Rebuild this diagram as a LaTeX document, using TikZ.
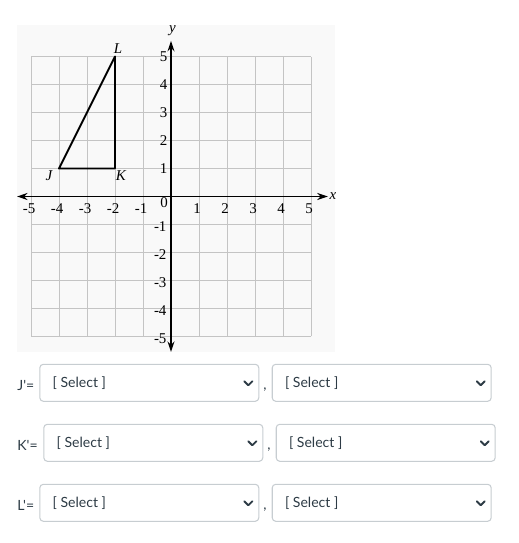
\documentclass[tikz,border=0pt]{standalone}
\usepackage{fontspec}
\setmainfont{Liberation Serif}
\newfontfamily\uifont{Lato}
\usetikzlibrary{arrows.meta}
\definecolor{gridgray}{HTML}{C4C4C4}
\definecolor{boxgray}{HTML}{C7CDD1}
\definecolor{uitext}{HTML}{2D3B45}
\tikzset{
  gridline/.style={draw=gridgray, line width=0.5pt},
  axisline/.style={line width=0.8pt, {Stealth[length=6pt,width=4pt]}-{Stealth[length=6pt,width=4pt]}},
  numlabel/.style={font=\fontsize{8.5}{9}\selectfont, inner sep=0pt},
  ptlabel/.style={font=\fontsize{8.5}{9}\selectfont\itshape, inner sep=0pt},
  selectbox/.style={draw=boxgray, line width=0.6pt, rounded corners=2pt, fill=white,
    minimum width=4.38cm, minimum height=0.74cm, inner sep=0pt},
  uilabel/.style={font=\uifont\fontsize{8}{9}\selectfont, text=uitext, inner sep=0pt},
}

\begin{document}
\begin{tikzpicture}[x=0.02cm, y=-0.02cm]
  \useasboundingbox (0,0) rectangle (519,543);

  % Graph
  \begin{scope}[shift={(171,196.5)}, x=0.56cm, y=0.56cm]
    \def\lo{-5}
    \def\hi{5}

    % Background and grid
    \fill[gray!5] (-5.5,-5.55) rectangle (5.86,6.13);
    \draw[gridline, step=1] (\lo,\lo) grid (\hi,\hi);

    % Axes
    \coordinate (xl) at (-5.5,0);
    \coordinate (xr) at (5.6,0);
    \coordinate (yb) at (0,-5.55);
    \coordinate (yt) at (0,5.56);
    \draw[axisline] (xl) -- (xr);
    \draw[axisline] (yb) -- (yt);
    \node[ptlabel] (xlab) at (5.78,0) {x};
    \node[ptlabel] (ylab) at (0.05,5.93) {y};

    % Tick labels
    \foreach \i in {-5,...,-1,1,2,...,5} {
      \node[numlabel] (xn\i) at (\i-0.07,-0.42) {\i};
    }
    \foreach \i in {1,...,5} {
      \node[numlabel, anchor=east] (yn\i) at (-0.12,\i) {\i};
    }
    \foreach \i in {-5,...,-1} {
      \node[numlabel, anchor=east] (yn\i) at (-0.15,\i-0.08) {\i};
    }
    \node[numlabel] (orig) at (-0.25,-0.23) {0};

    % Triangle
    \coordinate (J) at (-4,1);
    \coordinate (K) at (-2,1);
    \coordinate (L) at (-2,5);
    \draw[line width=1.1pt, line join=round] (J) -- (K) -- (L) -- cycle;
    \node[ptlabel] (Jlab) at (-4.36,0.73) {J};
    \node[ptlabel] (Klab) at (-1.79,0.73) {K};
    \node[ptlabel] (Llab) at (-1.89,5.3) {L};
  \end{scope}

  % Answer rows
  \foreach \pt/\yy/\xx in {J/382.8/39.3, K/442.8/43.3, L/502.8/39.3} {
    \node[uilabel, anchor=west] (\pt lab) at (17,\yy+3) {\pt'=};
    \node[selectbox, anchor=west] (\pt a) at (\xx,\yy) {};
    \node[selectbox, anchor=west] (\pt b) at (\xx+232.4,\yy) {};
    \node[uilabel] (\pt com) at (\xx+225.7,\yy+7) {,};
    \foreach \b in {a,b} {
      \node[uilabel, anchor=west] (\pt\b txt) at ([xshift=0.26cm]\pt\b.west) {[ Select ]};
      \draw[uitext, line width=1.1pt, line cap=round, line join=round]
        ([shift={(-0.30cm,0.03cm)}]\pt\b.east) -- ([shift={(-0.22cm,-0.05cm)}]\pt\b.east)
        -- ([shift={(-0.14cm,0.03cm)}]\pt\b.east);
    }
  }
\end{tikzpicture}
\end{document}
